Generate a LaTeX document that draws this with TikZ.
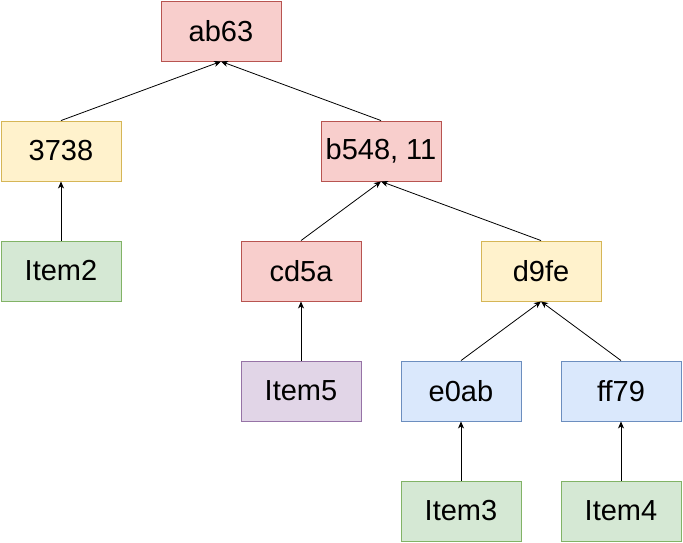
\documentclass[tikz,border=0pt]{standalone}
\usepackage{fontspec}
\setmainfont{Liberation Sans}
\usetikzlibrary{arrows.meta}
\definecolor{redF}{HTML}{F8CECC}\definecolor{redD}{HTML}{B85450}
\definecolor{yelF}{HTML}{FFF2CC}\definecolor{yelD}{HTML}{D6B656}
\definecolor{grnF}{HTML}{D5E8D4}\definecolor{grnD}{HTML}{82B366}
\definecolor{purF}{HTML}{E1D5E7}\definecolor{purD}{HTML}{9673A6}
\definecolor{bluF}{HTML}{DAE8FC}\definecolor{bluD}{HTML}{6C8EBF}
\tikzset{
  box/.style={rectangle, minimum width=120pt, minimum height=60pt, inner sep=0pt, line width=0.9pt,
    font=\fontsize{29}{33}\selectfont},
  redbox/.style={box, fill=redF, draw=redD},
  yelbox/.style={box, fill=yelF, draw=yelD},
  grnbox/.style={box, fill=grnF, draw=grnD},
  purbox/.style={box, fill=purF, draw=purD},
  blubox/.style={box, fill=bluF, draw=bluD},
  link/.style={draw=black, line width=0.8pt, -{Stealth[length=7pt,width=6pt,inset=2pt]}}
}
\begin{document}
\begin{tikzpicture}[x=1pt,y=-1pt]
\useasboundingbox (0,0) rectangle (683,543);
\node[redbox] (ab63) at (221,31) {ab63};
\node[yelbox] (n3738) at (61,151) {3738};
\node[redbox] (b548) at (381,151) {b548, 11};
\node[grnbox] (item2) at (61,271) {Item2};
\node[redbox] (cd5a) at (301,271) {cd5a};
\node[yelbox] (d9fe) at (541,271) {d9fe};
\node[purbox] (item5) at (301,391) {Item5};
\node[blubox] (e0ab) at (461,391) {e0ab};
\node[blubox] (ff79) at (621,391) {ff79};
\node[grnbox] (item3) at (461,511) {Item3};
\node[grnbox] (item4) at (621,511) {Item4};
\draw[link] (n3738.north) -- (ab63.south);
\draw[link] (b548.north) -- (ab63.south);
\draw[link] (item2.north) -- (n3738.south);
\draw[link] (cd5a.north) -- (b548.south);
\draw[link] (d9fe.north) -- (b548.south);
\draw[link] (item5.north) -- (cd5a.south);
\draw[link] (e0ab.north) -- (d9fe.south);
\draw[link] (ff79.north) -- (d9fe.south);
\draw[link] (item3.north) -- (e0ab.south);
\draw[link] (item4.north) -- (ff79.south);
\end{tikzpicture}
\end{document}
